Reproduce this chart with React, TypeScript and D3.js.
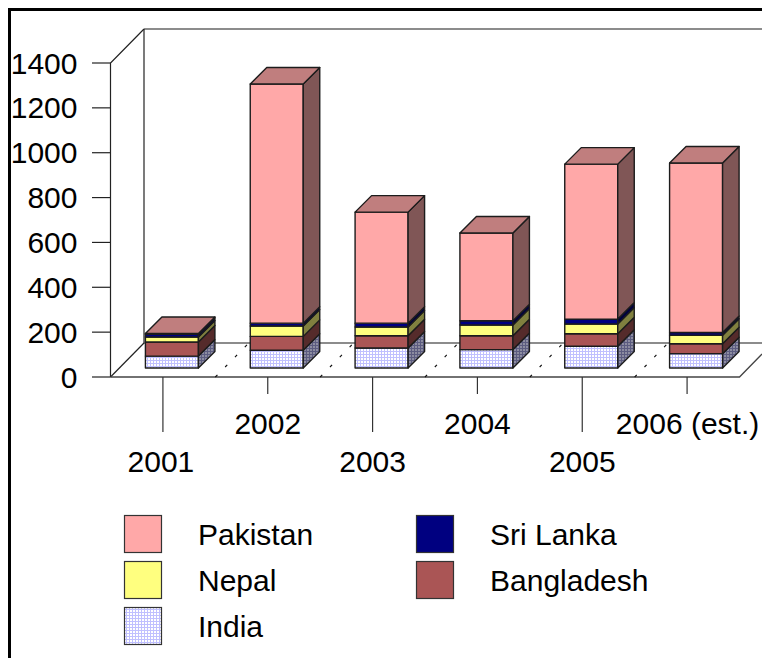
import React from "react";
import * as d3 from "d3";

const years = ["2001", "2002", "2003", "2004", "2005", "2006 (est.)"];
const seriesNames = ["India", "Bangladesh", "Nepal", "Sri Lanka", "Pakistan"];
const india = [53, 79, 89, 82, 97, 64];
const bangladesh = [63, 62, 55, 62, 56, 44];
const nepal = [22, 46, 39, 48, 43, 38];
const sriLanka = [12, 13, 17, 19, 22, 12];
const pakistan = [4, 1066, 495, 391, 691, 756];
const yTicks = [0, 200, 400, 600, 800, 1000, 1200, 1400];
const labelShift = [-2, 0, 0, 0, 0, 0.5];

const front: Record<string, string> = {
  India: "url(#indiaFront)", Bangladesh: "#aa5555", Nepal: "#ffff7f", "Sri Lanka": "#000080", Pakistan: "#ffa8a8",
};
const side: Record<string, string> = {
  India: "url(#indiaSide)", Bangladesh: "#552b2b", Nepal: "#80803f", "Sri Lanka": "#000040", Pakistan: "#805656",
};
const top: Record<string, string> = {
  India: "url(#indiaSide)", Bangladesh: "#804040", Nepal: "#bfbf5f", "Sri Lanka": "#000060", Pakistan: "#c07e7e",
};

const legendItems = [
  { name: "Pakistan", col: 0, row: 0 },
  { name: "Nepal", col: 0, row: 1 },
  { name: "India", col: 0, row: 2 },
  { name: "Sri Lanka", col: 1, row: 0 },
  { name: "Bangladesh", col: 1, row: 1 },
];

const FONT = "'Liberation Sans', Arial, sans-serif";
const FS = 30;

export default function App() {
  const x0 = 110.5, x1 = 739.5, y0 = 377, y1 = 63;
  const wallDx = 33.5, wallDy = 34;
  const y = d3.scaleLinear().domain([0, 1400]).range([y0, y1]);
  const x = d3.scaleBand<string>().domain(years).range([x0, x1]);
  const step = x.step();
  const barW = 53, depth = 16.5, inset = 9;
  const rows = years.map((yr, i) => ({
    yr, India: india[i], Bangladesh: bangladesh[i], Nepal: nepal[i], "Sri Lanka": sriLanka[i], Pakistan: pakistan[i],
  }));
  const stacked = d3.stack<any>().keys(seriesNames)(rows);
  const line = d3.line();
  const poly = (pts: [number, number][]) => line(pts)! + "Z";
  const stroke = "#1c1c1c";

  return (
    <svg width={762} height={658} style={{ position: "absolute", left: 0, top: 0, background: "#fff" }} fontFamily={FONT}>
      <defs>
        <pattern id="indiaFront" width={3} height={3} patternUnits="userSpaceOnUse">
          <rect width={3} height={3} fill="#ffffff" />
          <path d="M0 .5H3M.5 0V3" stroke="#c0c0ff" strokeWidth={1} />
        </pattern>
        <pattern id="indiaSide" width={3} height={3} patternUnits="userSpaceOnUse">
          <rect width={3} height={3} fill="#8c8ca0" />
          <path d="M0 .5H3M.5 0V3" stroke="#5c5c80" strokeWidth={1} />
        </pattern>
      </defs>

      {/* outer frame */}
      <path d="M9.5 658V9.5H762" fill="none" stroke="#000" strokeWidth={3} />

      {/* walls and floor */}
      <path d={`M${x0} ${y0}V${y1}L${x0 + wallDx} ${y1 - wallDy}`} fill="none" stroke="#222" strokeWidth={1.2} />
      <path d={`M${x0 + wallDx} ${y1 - wallDy}H762`} fill="none" stroke="#666" strokeWidth={1.3} />
      <path d={`M${x0 + wallDx} ${y1 - wallDy}V${y0 - wallDy}`} fill="none" stroke="#222" strokeWidth={1.2} />
      <path d={`M${x0 + wallDx} ${y0 - wallDy}H762`} fill="none" stroke="#666" strokeWidth={1.3} />
      <path d={`M${x0} ${y0}L${x0 + wallDx} ${y0 - wallDy}`} fill="none" stroke="#222" strokeWidth={1.2} />
      <path d={`M${x0} ${y0}H${x1}L762 ${y0 - 23}`} fill="none" stroke="#444" strokeWidth={1.3} />
      {years.slice(1).map((yr) => {
        const bx = x(yr)!;
        return (
          <line key={yr} x1={bx} y1={y0} x2={bx + wallDx} y2={y0 - wallDy}
            stroke="#111" strokeWidth={1.2} strokeDasharray="3 11" />
        );
      })}

      {/* y axis */}
      {yTicks.map((t) => (
        <g key={t}>
          <line x1={92} x2={x0} y1={y(t)} y2={y(t)} stroke="#222" strokeWidth={1.2} />
          <text x={77.5} y={y(t) + 10.5} textAnchor="end" fontSize={FS} fill="#000">{t}</text>
        </g>
      ))}

      {/* x axis */}
      {years.map((yr, i) => {
        const cx = x(yr)! + x.bandwidth() / 2;
        const long = i % 2 === 0;
        return (
          <g key={yr}>
            <line x1={cx} x2={cx} y1={y0} y2={long ? 432 : 394} stroke="#333" strokeWidth={1.2} />
            <text x={cx + labelShift[i]} y={long ? 472 : 434} textAnchor="middle" fontSize={FS} fill="#000">{yr}</text>
          </g>
        );
      })}

      {/* bars */}
      {years.map((yr, i) => {
        const bx = x(yr)! + inset + (step - barW) / 2;
        const lift = y0 - 368;
        return (
          <g key={yr}>
            {stacked.map((s) => {
              const name = s.key;
              const yb = y(s[i][0]) - lift;
              const yt = y(s[i][1]) - lift;
              const r = bx + barW;
              return (
                <g key={name} stroke={stroke} strokeWidth={1.4} strokeLinejoin="round">
                  <path d={poly([[bx, yb], [r, yb], [r, yt], [bx, yt]])} fill={front[name]} />
                  <path d={poly([[r, yb], [r + depth, yb - depth], [r + depth, yt - depth], [r, yt]])} fill={side[name]} />
                  {name === "Pakistan" && (
                    <path d={poly([[bx, yt], [r, yt], [r + depth, yt - depth], [bx + depth, yt - depth]])} fill={top[name]} />
                  )}
                </g>
              );
            })}
          </g>
        );
      })}

      {/* legend */}
      {legendItems.map((d) => {
        const lx = d.col === 0 ? 124 : 416;
        const ly = 515 + d.row * 46;
        return (
          <g key={d.name}>
            <rect x={lx + 0.5} y={ly + 0.5} width={37} height={37} fill={front[d.name]} stroke="#333" strokeWidth={1.2} />
            <text x={lx + 74} y={ly + 29.5} fontSize={FS} fill="#000">{d.name}</text>
          </g>
        );
      })}
    </svg>
  );
}
